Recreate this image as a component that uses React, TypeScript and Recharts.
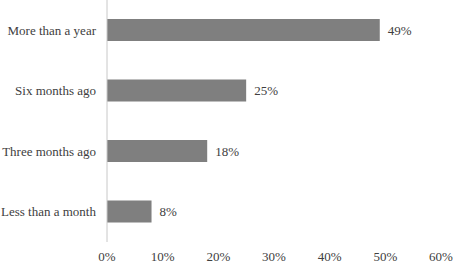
import React from "react";
import { BarChart, Bar, XAxis, YAxis, LabelList } from "recharts";

const categories = ["More than a year", "Six months ago", "Three months ago", "Less than a month"];
const shares = [49, 25, 18, 8];
const xTicks = [0, 10, 20, 30, 40, 50, 60];

const data = categories.map((name, i) => ({ name, value: shares[i] }));

const FONT = "'Liberation Serif', 'Times New Roman', serif";
const TEXT = "#404040";

const YTick = ({ x, y, payload }: any) => (
  <text x={x} y={y} dy={4.5} textAnchor="end" fontFamily={FONT} fontSize={13} fill={TEXT}>
    {payload.value}
  </text>
);

const XTick = ({ x, y, payload }: any) => (
  <text x={x} y={y} dy={13} textAnchor="middle" fontFamily={FONT} fontSize={13} fill={TEXT}>
    {`${payload.value}%`}
  </text>
);

const ValueLabel = ({ x, y, width, height, value }: any) => (
  <text
    x={x + width + 8}
    y={y + height / 2}
    dy={4.5}
    fontFamily={FONT}
    fontSize={13}
    fill={TEXT}
  >
    {`${value}%`}
  </text>
);

const App = () => {
  return (
    <div style={{ position: "absolute", left: 0, top: 0, background: "#fff" }}>
      <BarChart
        width={454}
        height={263}
        data={data}
        layout="vertical"
        margin={{ top: 0, right: 13, bottom: 0, left: 0 }}
        barCategoryGap={0}
      >
        <XAxis
          type="number"
          domain={[0, 60]}
          ticks={xTicks}
          axisLine={false}
          tickLine={false}
          tickMargin={0}
          height={21}
          tick={<XTick />}
          interval={0}
        />
        <YAxis
          type="category"
          dataKey="name"
          width={107}
          axisLine={{ stroke: "#c8c8c8" }}
          tickLine={false}
          tickMargin={5}
          tick={<YTick />}
        />
        <Bar dataKey="value" fill="#7f7f7f" barSize={22} isAnimationActive={false}>
          <LabelList dataKey="value" content={<ValueLabel />} />
        </Bar>
      </BarChart>
    </div>
  );
};

export default App;
